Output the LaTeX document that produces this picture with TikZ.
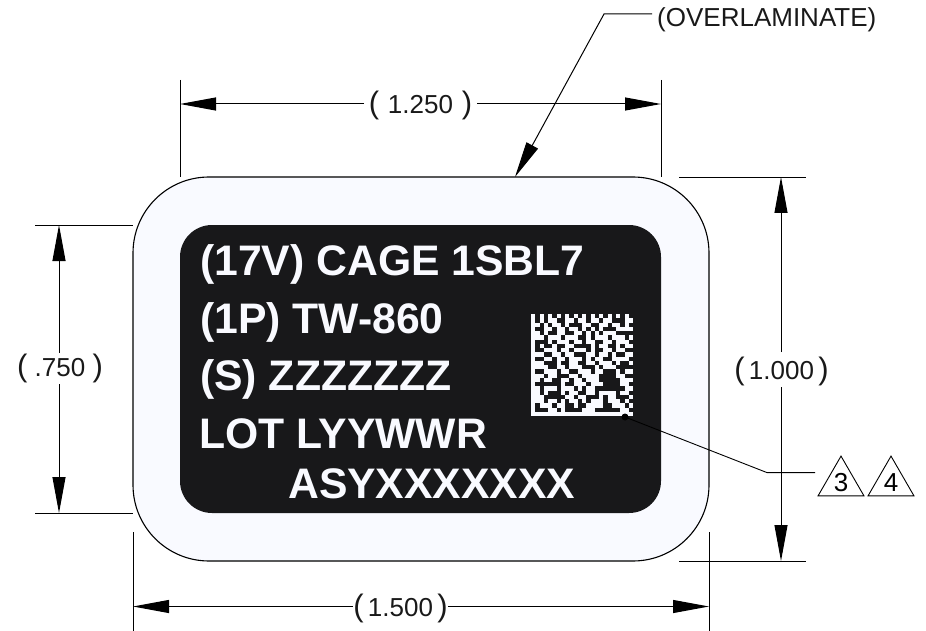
\documentclass[tikz,border=0pt]{standalone}
\usepackage{fontspec}
\setmainfont{Liberation Sans}
\usetikzlibrary{arrows.meta,shapes.geometric}
\definecolor{labelblack}{HTML}{18181A}
\definecolor{overlam}{HTML}{F9FAFF}
\newcommand{\refdim}[1]{{\fontsize{31}{31}\selectfont(}\,#1\,{\fontsize{31}{31}\selectfont)}}

\begin{document}
\begin{tikzpicture}[x=1pt,y=-1pt]
  \tikzset{
    dim line/.style={line width=1pt,-{Triangle[length=36pt,width=13pt]}},
    ext line/.style={line width=0.9pt},
    dim text/.style={font=\fontsize{26}{30}\selectfont,inner sep=0pt,text=black!90},
    print text/.style={font=\bfseries\fontsize{42.7}{46}\selectfont,text=overlam,anchor=base west,inner sep=0pt},
    note tri/.style={draw,line width=0.9pt,regular polygon,regular polygon sides=3,minimum size=53pt,inner sep=0pt,font=\fontsize{26}{30}\selectfont}
  }
  \useasboundingbox (0,0) rectangle (926,631);

  \node [draw,fill=overlam,line width=1.1pt,rounded corners=76pt,minimum width=576pt,minimum height=384pt,inner sep=0pt] (film) at (421,369) {};
  \node [fill=labelblack,rounded corners=32pt,minimum width=481pt,minimum height=288pt,inner sep=0pt] (plate) at (420.5,369) {};

  \node [print text] (line1) at (200,275) {(17V) CAGE 1SBL7};
  \node [print text] (line2) at (200,333) {(1P) TW-860};
  \node [print text] (line3) at (200,390) {(S) ZZZZZZZ};
  \node [print text] (line4) at (199,448) {LOT LYYWWR};
  \node [print text] (line5) at (288,498) {ASYXXXXXXX};

  \begin{scope}[shift={(531,314)},x=4.25pt,y=-4.25pt]
    \fill [overlam] (0,0) rectangle (24,24);
    \foreach \c in {1,3,...,23}
      \fill [labelblack] (\c,0) rectangle +(1,1);
    \foreach \r in {2,4,...,22}
      \fill [labelblack] (23,\r) rectangle +(1,1);
    \foreach \r/\c/\w in {1/1/1,1/3/1,1/6/2,1/10/1,1/13/1,1/16/1,1/19/3,
      2/2/1,2/4/1,2/7/1,2/9/3,2/14/2,2/18/1,2/21/1,
      3/1/2,3/5/1,3/8/1,3/11/1,3/13/1,3/15/1,3/17/3,
      4/2/1,4/4/2,4/8/2,4/12/1,4/14/1,4/16/1,4/20/3,
      5/3/1,5/7/1,5/11/2,5/14/1,5/18/1,5/22/1,
      6/1/3,6/5/1,6/9/1,6/12/1,6/15/2,6/19/1,
      7/1/1,7/3/2,7/6/2,7/10/4,7/15/1,7/18/2,7/21/1,
      8/1/2,8/6/1,8/9/1,8/13/1,8/15/2,8/19/1,8/22/1,
      9/3/2,9/7/1,9/10/3,9/15/1,9/18/1,9/20/2,
      10/1/2,10/5/1,10/8/1,10/12/1,10/14/1,10/17/2,
      11/3/3,11/7/2,11/11/2,11/15/1,11/19/1,11/21/2,
      12/4/2,12/8/1,12/12/3,12/16/1,12/20/3,
      13/1/2,13/6/1,13/9/2,13/14/1,13/17/3,13/21/1,
      14/3/1,14/6/3,14/11/1,14/16/4,14/22/1,
      15/2/1,15/5/2,15/9/1,15/12/1,15/16/5,
      16/1/6,16/8/2,16/13/1,16/17/4,
      17/2/1,17/6/1,17/10/1,17/12/1,17/15/7,
      18/2/1,18/4/3,18/8/1,18/11/2,18/15/1,18/20/1,
      19/3/5,19/10/1,19/13/3,19/17/1,19/20/3,
      20/3/1,20/6/1,20/8/1,20/11/1,20/13/1,20/17/1,20/21/1,
      21/1/1,21/5/1,21/8/2,21/11/2,21/17/2,21/22/1,
      22/1/3,22/6/1,22/8/1,22/9/3,22/15/6}
      \fill [labelblack] (\c,\r) rectangle +(\w,1);
  \end{scope}

  \node [dim text] (w125) at (420.5,105) {\refdim{\hspace{4.5pt}1.250\hspace{4.5pt}}};
  \coordinate (w125L) at (180,104);
  \coordinate (w125R) at (661,104);
  \draw [dim line] (364,104) -- (w125L);
  \draw [dim line] (477,104) -- (w125R);
  \draw [ext line] (180,80) -- (180,177);
  \draw [ext line] (661,80) -- (661,177);

  \node [dim text,anchor=west] (note) at (657,20) {(OVERLAMINATE)};
  \coordinate (noteBend) at (604,14);
  \coordinate (noteTip) at (515,177);
  \draw [dim line] (note.west |- noteBend) ++(-5,0) -- (noteBend) -- (noteTip);

  \node [dim text] (h100) at (781.5,371) {\refdim{1.000}};
  \coordinate (h100T) at (781,177);
  \coordinate (h100B) at (781,561);
  \draw [dim line] (781,352) -- (h100T);
  \draw [dim line] (781,387) -- (h100B);
  \draw [ext line] (679,177) -- (806,177);
  \draw [ext line] (679,561) -- (806,561);

  \node [dim text] (h075) at (60,368) {\refdim{\hspace{3pt}.750\hspace{3pt}}};
  \coordinate (h075T) at (59,225);
  \coordinate (h075B) at (59,513);
  \draw [dim line] (59,353) -- (h075T);
  \draw [dim line] (59,384) -- (h075B);
  \draw [ext line] (35,225) -- (133,225);
  \draw [ext line] (35,513) -- (133,513);

  \node [dim text] (w150) at (400.5,608) {\refdim{1.500}};
  \coordinate (w150L) at (133,606.5);
  \coordinate (w150R) at (709,606.5);
  \draw [dim line] (w150.west |- w150L) -- (w150L);
  \draw [dim line] (w150.east |- w150R) -- (w150R);
  \draw [ext line] (133,532) -- (133,631);
  \draw [ext line] (709,532) -- (709,631);

  \node [circle,fill=black,minimum size=7pt,inner sep=0pt] (dot) at (625,417) {};
  \node [note tri] (tri3) at (841,482.6) {3};
  \node [note tri] (tri4) at (891,482.6) {4};
  \coordinate (triBend) at (767,472.6);
  \draw [ext line] (dot.center) -- (triBend) -- (815,472.6);
\end{tikzpicture}
\end{document}
